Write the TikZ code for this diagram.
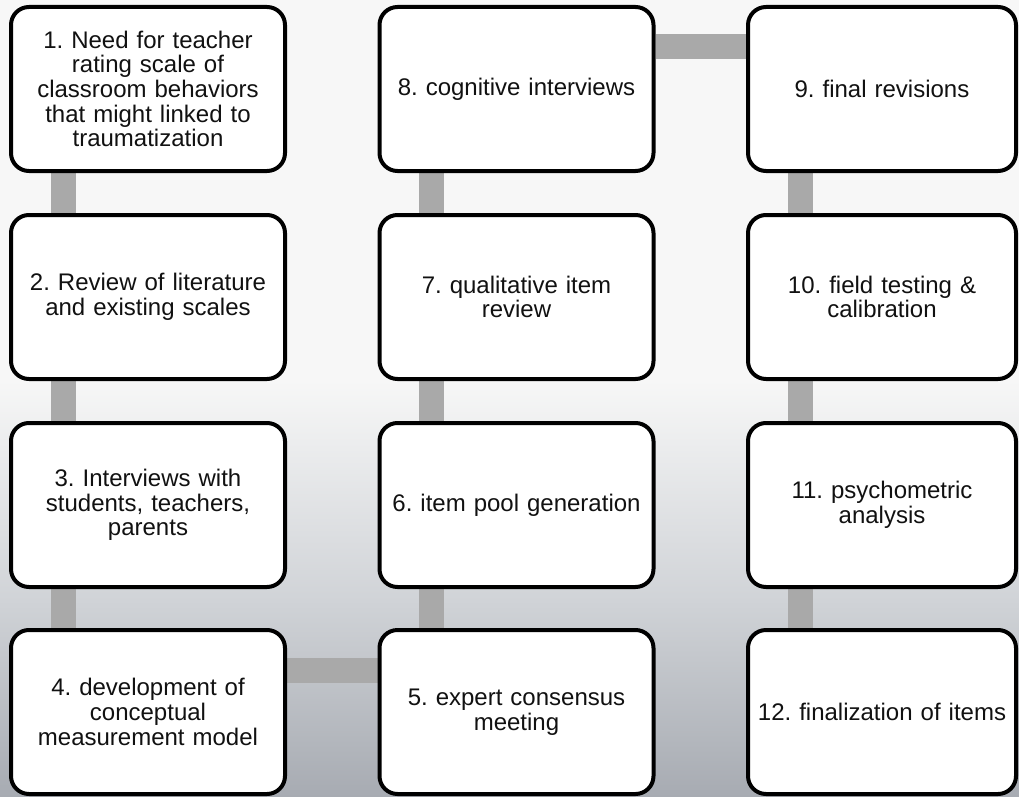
\documentclass[tikz,border=0pt]{standalone}
\usepackage{fontspec}
\setmainfont{Liberation Sans}
\frenchspacing
\definecolor{linkgray}{HTML}{A9A9A9}
\definecolor{bgtop}{HTML}{F7F7F7}
\definecolor{bgmid}{HTML}{D0D3D7}
\definecolor{bgbot}{HTML}{A7ABB2}
\definecolor{ink}{HTML}{111111}
\pgfdeclarelayer{back}
\pgfdeclarelayer{links}
\pgfsetlayers{back,links,main}
\begin{document}
\begin{tikzpicture}[x=1pt,y=-1pt,
  stepbox/.style={draw=black, line width=4pt, fill=white, rounded corners=18pt,
    minimum width=274pt, minimum height=164pt, inner sep=0pt, align=center,
    text width=264pt, text=ink, font=\fontsize{24}{24.7}\selectfont},
  narrowbox/.style={stepbox, minimum width=268pt, text width=258pt},
  conn/.style={draw=linkgray, line width=25pt}]
\useasboundingbox (0,0) rectangle (1019,797);

% twelve steps, snaking down, up, down
\node[stepbox] (b1) at (148,89) {1. Need for teacher\\rating scale of\\classroom behaviors\\that might linked to\\traumatization};
\node[stepbox] (b2) at (148,297) {2. Review of literature\\and existing scales};
\node[stepbox] (b3) at (148,505) {3. Interviews with\\students, teachers,\\parents};
\node[stepbox] (b4) at (148,712) {4. development of\\conceptual\\measurement model};
\node[stepbox] (b5) at (516.5,712) {5. expert consensus\\meeting};
\node[stepbox] (b6) at (516.5,505) {6. item pool generation};
\node[stepbox] (b7) at (516.5,297) {7. qualitative item\\review};
\node[stepbox] (b8) at (516.5,89) {8. cognitive interviews};
\node[narrowbox] (b9) at (882,89) {9. final revisions};
\node[narrowbox] (b10) at (882,297) {10. field testing \&\\calibration};
\node[narrowbox] (b11) at (882,505) {11. psychometric\\analysis};
\node[narrowbox] (b12) at (882,712) {12. finalization of items};

% backdrop: flat light top half, then darkening toward the bottom
\begin{pgfonlayer}{back}
  \fill[bgtop] (0,0) rectangle (1019,381);
  \shade[top color=bgtop, bottom color=bgmid] (0,380) rectangle (1019,601);
  \shade[top color=bgmid, bottom color=bgbot] (0,600) rectangle (1019,797);
\end{pgfonlayer}

% thick grey links between consecutive steps
\begin{pgfonlayer}{links}
  \draw[conn] ([xshift=54pt]b1.south west) -- ([xshift=54pt]b2.north west);
  \draw[conn] ([xshift=54pt]b2.south west) -- ([xshift=54pt]b3.north west);
  \draw[conn] ([xshift=54pt]b3.south west) -- ([xshift=54pt]b4.north west);
  \draw[conn] ([yshift=-42pt]b4.north east) -- ([yshift=-42pt]b5.north west);
  \draw[conn] ([xshift=54pt]b5.north west) -- ([xshift=54pt]b6.south west);
  \draw[conn] ([xshift=54pt]b6.north west) -- ([xshift=54pt]b7.south west);
  \draw[conn] ([xshift=54pt]b7.north west) -- ([xshift=54pt]b8.south west);
  \draw[conn] ([yshift=-42pt]b8.north east) -- ([yshift=-42pt]b9.north west);
  \draw[conn] ([xshift=54pt]b9.south west) -- ([xshift=54pt]b10.north west);
  \draw[conn] ([xshift=54pt]b10.south west) -- ([xshift=54pt]b11.north west);
  \draw[conn] ([xshift=54pt]b11.south west) -- ([xshift=54pt]b12.north west);
\end{pgfonlayer}
\end{tikzpicture}
\end{document}
